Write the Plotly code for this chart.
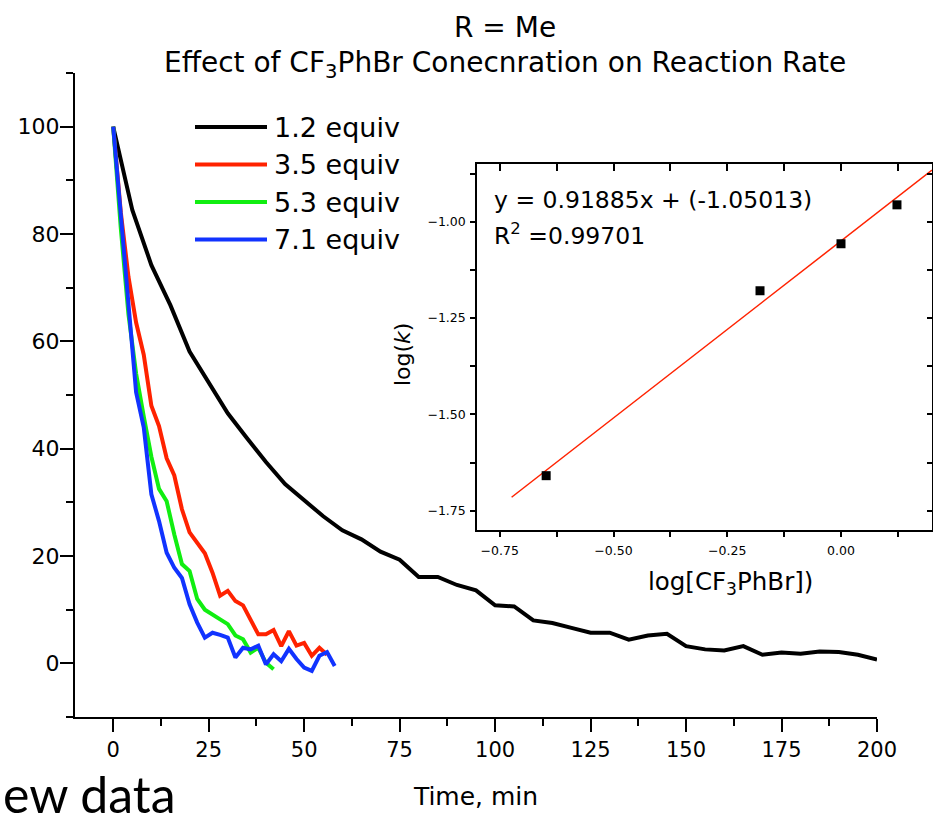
import plotly.graph_objects as go

# ---------------- data ----------------
series_names = ["1.2 equiv", "3.5 equiv", "5.3 equiv", "7.1 equiv"]
series_colors = ["#000000", "#FF2200", "#11EE11", "#1133FF"]

time_12 = [0, 5, 10, 15, 20, 25, 30, 35, 40, 45, 50, 55, 60, 65, 70, 75, 80, 85, 90, 95,
           100, 105, 110, 115, 120, 125, 130, 135, 140, 145, 150, 155, 160, 165, 170, 175,
           180, 185, 190, 195, 200]
conv_12 = [100, 84.5, 74.2, 66.7, 58.1, 52.4, 46.6, 42.0, 37.5, 33.4, 30.4, 27.4, 24.8, 23.1,
           20.8, 19.3, 16.1, 16.1, 14.6, 13.6, 10.8, 10.6, 8.0, 7.5, 6.6, 5.7, 5.7, 4.4, 5.2,
           5.5, 3.2, 2.6, 2.4, 3.2, 1.6, 2.0, 1.8, 2.2, 2.1, 1.6, 0.7]

time_35 = [0, 2, 4, 6, 8, 10, 12, 14, 16, 18, 20, 22, 24, 26, 28, 30, 32, 34, 36, 38, 40,
           42, 44, 46, 48, 50, 52, 54, 56]
conv_35 = [100, 84, 72, 63.5, 57.5, 48, 44.2, 38.2, 35, 28.7, 24.4, 22.4, 20.5, 16.9, 12.6,
           13.5, 11.6, 10.8, 8.2, 5.4, 5.4, 6.2, 3.2, 6.0, 3.3, 3.8, 1.4, 2.9, 1.6]

time_53 = [0, 2, 4, 6, 8, 10, 12, 14, 16, 18, 20, 22, 24, 26, 28, 30, 32, 34, 36, 38, 40, 42]
conv_53 = [100, 81, 65, 54, 46, 38.5, 32.5, 30.2, 24, 18.5, 17.2, 12, 10, 9.2, 8.2, 7.3, 5.2,
           4.5, 2.0, 2.9, 0.1, -1.1]

time_71 = [0, 2, 4, 6, 8, 10, 12, 14, 16, 18, 20, 22, 24, 26, 28, 30, 32, 34, 36, 38, 40,
           42, 44, 46, 48, 50, 52, 54, 56, 58]
conv_71 = [100, 83, 66, 50.5, 44, 31.5, 26.5, 20.6, 17.8, 15.9, 11, 7.6, 4.8, 5.7, 5.3, 4.8,
           1.1, 2.9, 2.6, 3.3, -0.2, 1.7, 0.4, 2.7, 0.8, -0.8, -1.4, 1.4, 2.1, -0.5]

series_times = [time_12, time_35, time_53, time_71]
series_values = [conv_12, conv_35, conv_53, conv_71]

# inset: log k vs log[CF3PhBr]
log_conc = [-0.648, -0.178, 0.0, 0.123]
log_k = [-1.659, -1.179, -1.057, -0.956]
fit_x = [-0.724, 0.2]
fit_y = [-1.715, -0.866]

x_ticks_main = [0, 25, 50, 75, 100, 125, 150, 175, 200]
y_ticks_main = [0, 20, 40, 60, 80, 100]
x_ticks_inset = [-0.75, -0.50, -0.25, 0.00]
y_ticks_inset = [-1.75, -1.50, -1.25, -1.00]

# ---------------- layout helpers ----------------
W, H = 933, 815
ML, MR, MT, MB = 75, 1, 73, 98
PW = W - ML - MR
PH = H - MT - MB
FONT = "DejaVu Sans"


def px_x(x):
    return (x - ML) / PW


def px_y(y):
    return (H - MB - y) / PH


fig = go.Figure()

for name, t, v, c in zip(series_names, series_times, series_values, series_colors):
    fig.add_trace(go.Scatter(x=t, y=v, mode="lines", name=name,
                             line=dict(color=c, width=4), showlegend=False,
                             xaxis="x", yaxis="y"))

fig.add_trace(go.Scatter(x=fit_x, y=fit_y, mode="lines", line=dict(color="#FF2200", width=1.5),
                         xaxis="x2", yaxis="y2", showlegend=False))
fig.add_trace(go.Scatter(x=log_conc, y=log_k, mode="markers",
                         marker=dict(symbol="square", size=9, color="black"),
                         xaxis="x2", yaxis="y2", showlegend=False))
# carrier for the inward-ticked top/right inset axes
fig.add_trace(go.Scatter(x=[None], y=[None], xaxis="x3", yaxis="y3", showlegend=False,
                         hoverinfo="skip"))

axis_common = dict(showgrid=False, zeroline=False, showline=True, linecolor="black",
                   tickcolor="black", ticks="outside")

fig.update_layout(
    width=W, height=H,
    margin=dict(l=ML, r=MR, t=MT, b=MB),
    template="none",
    paper_bgcolor="white", plot_bgcolor="white",
    font=dict(family=FONT, color="black", size=20),
    showlegend=False,
    xaxis=dict(**axis_common, domain=[0, px_x(877)], range=[-10, 200],
               tickvals=x_ticks_main, ticklen=13, tickwidth=2, linewidth=2,
               tickfont=dict(size=21), ticklabelstandoff=0,
               minor=dict(dtick=12.5, tick0=0, ticklen=7, tickwidth=2, ticks="outside",
                          tickcolor="black"),
               title=dict(text="Time, min", font=dict(size=25), standoff=26),
               anchor="y"),
    yaxis=dict(**axis_common, domain=[0, 1], range=[-10, 110],
               tickvals=y_ticks_main, ticklen=13, tickwidth=2, linewidth=2,
               tickfont=dict(size=22), ticklabelstandoff=-4,
               minor=dict(dtick=10, tick0=0, ticklen=7, tickwidth=2, ticks="outside",
                          tickcolor="black"),
               anchor="x"),
    xaxis2=dict(**axis_common, domain=[px_x(477), 1], range=[-0.8, 0.2], anchor="y2",
                tickvals=x_ticks_inset, tickformat=".2f", ticklen=5, tickwidth=1.5,
                linewidth=1.5, tickfont=dict(size=12.5), ticklabelstandoff=3,
                minor=dict(dtick=0.125, tick0=0, ticklen=5, tickwidth=1.5, ticks="outside",
                           tickcolor="black")),
    yaxis2=dict(**axis_common, domain=[px_y(530), px_y(164)], range=[-1.8, -0.85],
                anchor="x2", tickvals=y_ticks_inset, tickformat=".2f", ticklen=5,
                tickwidth=1.5, linewidth=1.5, tickfont=dict(size=12.5), ticklabelstandoff=2,
                minor=dict(dtick=0.125, tick0=0, ticklen=5, tickwidth=1.5, ticks="outside",
                           tickcolor="black")),
    xaxis3=dict(showgrid=False, zeroline=False, showline=True, linecolor="black",
                linewidth=1.5, overlaying="x2", side="top", anchor="y2", range=[-0.8, 0.2],
                tickvals=x_ticks_inset, ticks="inside", ticklen=7, tickwidth=1.5,
                tickcolor="black", showticklabels=False,
                minor=dict(dtick=0.125, tick0=0, ticklen=7, tickwidth=1.5, ticks="inside",
                           tickcolor="black")),
    yaxis3=dict(showgrid=False, zeroline=False, showline=True, linecolor="black",
                linewidth=1.5, overlaying="y2", side="right", anchor="x2",
                range=[-1.8, -0.85], tickvals=y_ticks_inset, ticks="inside", ticklen=5,
                tickwidth=1.5, tickcolor="black", showticklabels=False,
                minor=dict(dtick=0.125, tick0=0, ticklen=5, tickwidth=1.5, ticks="inside",
                           tickcolor="black")),
)

annotations = [
    dict(text="R = Me", x=px_x(505), y=px_y(27), font=dict(size=28)),
    dict(text="Effect of CF<sub>3</sub>PhBr Conecnration on Reaction Rate",
         x=px_x(505), y=px_y(65), font=dict(size=28)),
    dict(text="y = 0.91885x + (-1.05013)", x=px_x(492), y=px_y(200), xanchor="left",
         font=dict(size=23.5)),
    dict(text="R<sup>2</sup> =0.99701", x=px_x(492), y=px_y(235), xanchor="left",
         font=dict(size=23.5)),
    dict(text="log[CF<sub>3</sub>PhBr])", x=px_x(730), y=px_y(583), font=dict(size=24.5)),
    dict(text="log(<i>k</i>)", x=px_x(402), y=px_y(355), textangle=-90,
         font=dict(size=22)),
    dict(text="ew data", x=px_x(178), y=px_y(794), xanchor="right",
         font=dict(size=50, family="Lato")),
]

# hand-drawn legend (long line samples as in the original)
for i, (name, c) in enumerate(zip(series_names, series_colors)):
    yy = 127 + i * 37.5
    fig.add_shape(type="line", xref="paper", yref="paper", x0=px_x(195), x1=px_x(267),
                  y0=px_y(yy), y1=px_y(yy), line=dict(color=c, width=4))
    annotations.append(dict(text=name, x=px_x(272), y=px_y(yy), xanchor="left",
                            font=dict(size=27)))

for a in annotations:
    a.setdefault("xref", "paper")
    a.setdefault("yref", "paper")
    a.setdefault("xanchor", "center")
    a.setdefault("yanchor", "middle")
    a.setdefault("showarrow", False)
    fig.add_annotation(**a)

fig.write_html("out.html")
